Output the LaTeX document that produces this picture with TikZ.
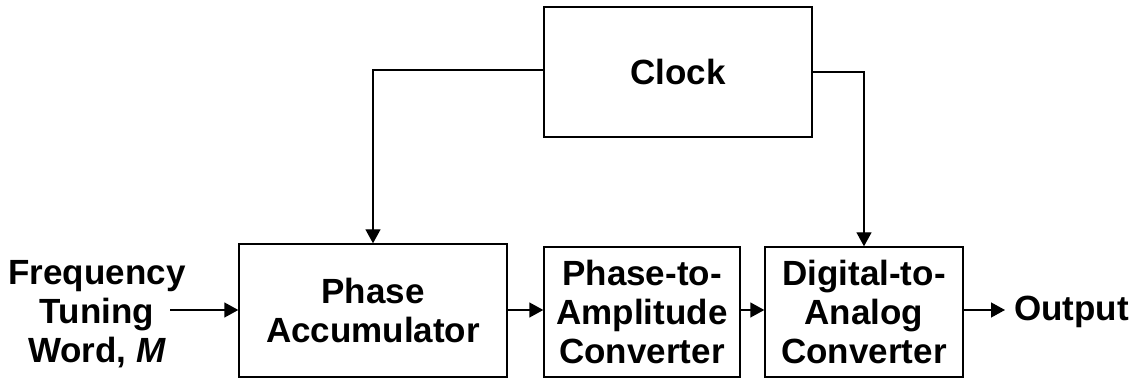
\documentclass[tikz,border=0pt]{standalone}
\usepackage{fontspec}
\setmainfont{Liberation Sans}
\usetikzlibrary{arrows.meta,positioning}
\begin{document}
\begin{tikzpicture}[x=1pt,y=-1pt,
    block/.style={draw, line width=1.4pt, align=center, inner sep=0pt},
    sig/.style={line width=1.4pt, -{Triangle[length=14pt,width=15pt]}},
    lbl/.style={align=center, inner sep=0pt},
    every node/.style={font=\fontsize{35}{39}\selectfont\bfseries}]
        \useasboundingbox (0,0) rectangle (1136,379);

        % Blocks
        \node[block, minimum width=268pt, minimum height=130pt] (clock) at (678,72) {Clock};
        \node[block, minimum width=268pt, minimum height=133pt] (acc) at (373,310.5) {Phase\\Accumulator};
        \node[block, minimum width=196pt, minimum height=130pt] (pac) at (642,312) {Phase-to-\\Amplitude\\Converter};
        \node[block, minimum width=198pt, minimum height=130pt] (dac) at (864,312) {Digital-to-\\Analog\\Converter};

        % Input and output labels
        \node[lbl] (ftw) at (97,314) {Frequency\\Tuning\\Word, \textit{M}};
        \node[lbl, anchor=west] (out) at (1014,312) {Output};
        \coordinate (in) at (170,310);
        \coordinate (outend) at (1005,310);

        % Clock distribution
        \draw[sig] (clock.west |- 0,70) -| (acc.north);
        \draw[sig] (clock.east |- 0,72) -| (dac.north);

        % Signal path
        \draw[sig] (in) -- (acc.west |- in);
        \draw[sig] (acc.east |- 0,310) -- (pac.west |- 0,310);
        \draw[sig] (pac.east |- 0,310) -- (dac.west |- 0,310);
        \draw[sig] (dac.east |- 0,310) -- (outend);
\end{tikzpicture}
\end{document}
